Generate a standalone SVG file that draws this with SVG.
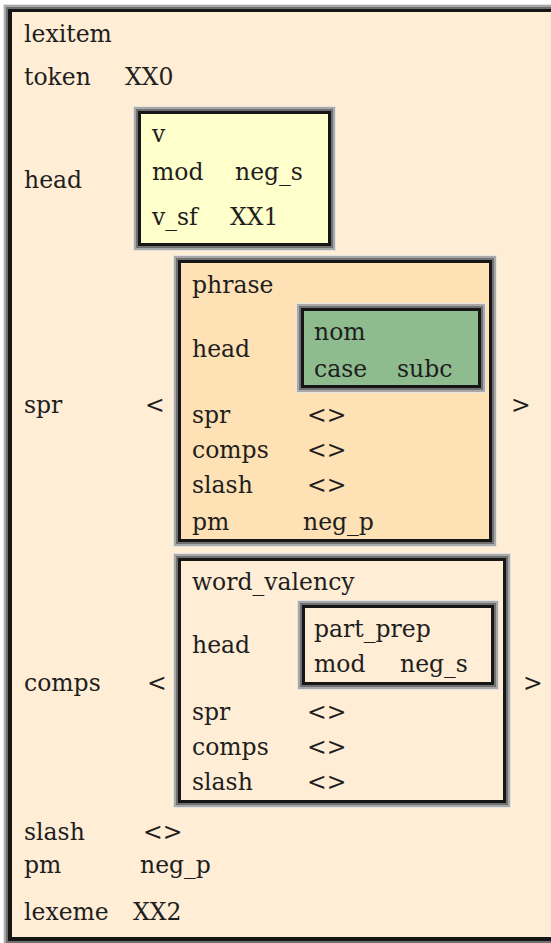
<svg xmlns="http://www.w3.org/2000/svg" width="551" height="943" viewBox="0 0 551 943">
  <style>
    text { font-family: "DejaVu Serif", "Liberation Serif", serif; font-size: 23.5px; fill: #1e1e1e; }
    .b0 { fill: #e4e4e4; }
    .b1 { fill: #a8a8a8; }
    .b2 { fill: #707070; }
    .b3 { fill: #161616; }
    .peach { fill: #ffedd5; }
    .orange { fill: #fee1b4; }
    .yellow { fill: #ffffcc; }
    .green { fill: #8fbc8f; }
  </style>

  <rect x="0" y="0" width="551" height="943" fill="#ffffff"/>

  <!-- outer structure: lexitem -->
  <g id="lexitem">
    <rect class="b0" x="3" y="4" width="560" height="942"/>
    <rect class="b1" x="4" y="5" width="558" height="940"/>
    <rect class="b2" x="6" y="7" width="554" height="936"/>
    <rect class="b3" x="8" y="9" width="550" height="932"/>
    <rect class="peach" x="12" y="12" width="546" height="925"/>
    <text x="24" y="42">lexitem</text>
    <text x="24" y="85">token</text>
    <text x="125" y="85">XX0</text>
    <text x="24" y="188">head</text>
    <text x="24" y="413">spr</text>
    <text x="24" y="691">comps</text>
    <text x="24" y="840">slash</text>
    <text x="143" y="840">&lt;&gt;</text>
    <text x="24" y="873">pm</text>
    <text x="140" y="873">neg_p</text>
    <text x="24" y="920">lexeme</text>
    <text x="133" y="920">XX2</text>
  </g>

  <!-- head value: v -->
  <g id="head-v">
    <rect class="b0" x="133" y="106" width="203" height="145"/>
    <rect class="b1" x="134" y="107" width="201" height="143"/>
    <rect class="b2" x="136" y="109" width="197" height="139"/>
    <rect class="b3" x="138" y="111" width="193" height="135"/>
    <rect class="yellow" x="141" y="114" width="187" height="129"/>
    <text x="152" y="142">v</text>
    <text x="152" y="180">mod</text>
    <text x="235" y="180">neg_s</text>
    <text x="152" y="225">v_sf</text>
    <text x="230" y="225">XX1</text>
  </g>

  <!-- spr list brackets -->
  <g id="spr-list">
    <text x="145" y="413">&lt;</text>
    <text x="511" y="413">&gt;</text>
  </g>

  <!-- spr element: phrase -->
  <g id="phrase">
    <rect class="b0" x="173" y="255" width="324" height="292"/>
    <rect class="b1" x="174" y="256" width="322" height="290"/>
    <rect class="b2" x="176" y="258" width="318" height="286"/>
    <rect class="b3" x="178" y="260" width="314" height="282"/>
    <rect class="orange" x="181" y="263" width="308" height="276"/>
    <text x="192" y="293">phrase</text>
    <text x="192" y="357">head</text>
    <text x="192" y="423">spr</text>
    <text x="307" y="423">&lt;&gt;</text>
    <text x="192" y="458">comps</text>
    <text x="307" y="458">&lt;&gt;</text>
    <text x="192" y="493">slash</text>
    <text x="307" y="493">&lt;&gt;</text>
    <text x="192" y="530">pm</text>
    <text x="303" y="530">neg_p</text>
  </g>

  <!-- phrase head: nom -->
  <g id="nom">
    <rect class="b0" x="296" y="303" width="190" height="90"/>
    <rect class="b1" x="297" y="304" width="188" height="88"/>
    <rect class="b2" x="299" y="306" width="184" height="84"/>
    <rect class="b3" x="301" y="308" width="180" height="80"/>
    <rect class="green" x="304" y="311" width="174" height="74"/>
    <text x="314" y="340">nom</text>
    <text x="314" y="377">case</text>
    <text x="397" y="377">subc</text>
  </g>

  <!-- comps list brackets -->
  <g id="comps-list">
    <text x="147" y="691">&lt;</text>
    <text x="523" y="691">&gt;</text>
  </g>

  <!-- comps element: word_valency -->
  <g id="word-valency">
    <rect class="b0" x="173" y="553" width="338" height="255"/>
    <rect class="b1" x="174" y="554" width="336" height="253"/>
    <rect class="b2" x="176" y="556" width="332" height="249"/>
    <rect class="b3" x="178" y="558" width="328" height="245"/>
    <rect class="peach" x="181" y="561" width="322" height="239"/>
    <text x="192" y="590">word_valency</text>
    <text x="192" y="653">head</text>
    <text x="192" y="720">spr</text>
    <text x="307" y="720">&lt;&gt;</text>
    <text x="192" y="755">comps</text>
    <text x="307" y="755">&lt;&gt;</text>
    <text x="192" y="790">slash</text>
    <text x="307" y="790">&lt;&gt;</text>
  </g>

  <!-- word_valency head: part_prep -->
  <g id="part-prep">
    <rect class="b0" x="297" y="600" width="202" height="90"/>
    <rect class="b1" x="298" y="601" width="200" height="88"/>
    <rect class="b2" x="300" y="603" width="196" height="84"/>
    <rect class="b3" x="302" y="605" width="192" height="80"/>
    <rect class="peach" x="305" y="608" width="186" height="74"/>
    <text x="314" y="637">part_prep</text>
    <text x="314" y="672">mod</text>
    <text x="400" y="672">neg_s</text>
  </g>

  <!-- no connectors: attribute-value matrix -->
  <g id="connectors"/>
</svg>
